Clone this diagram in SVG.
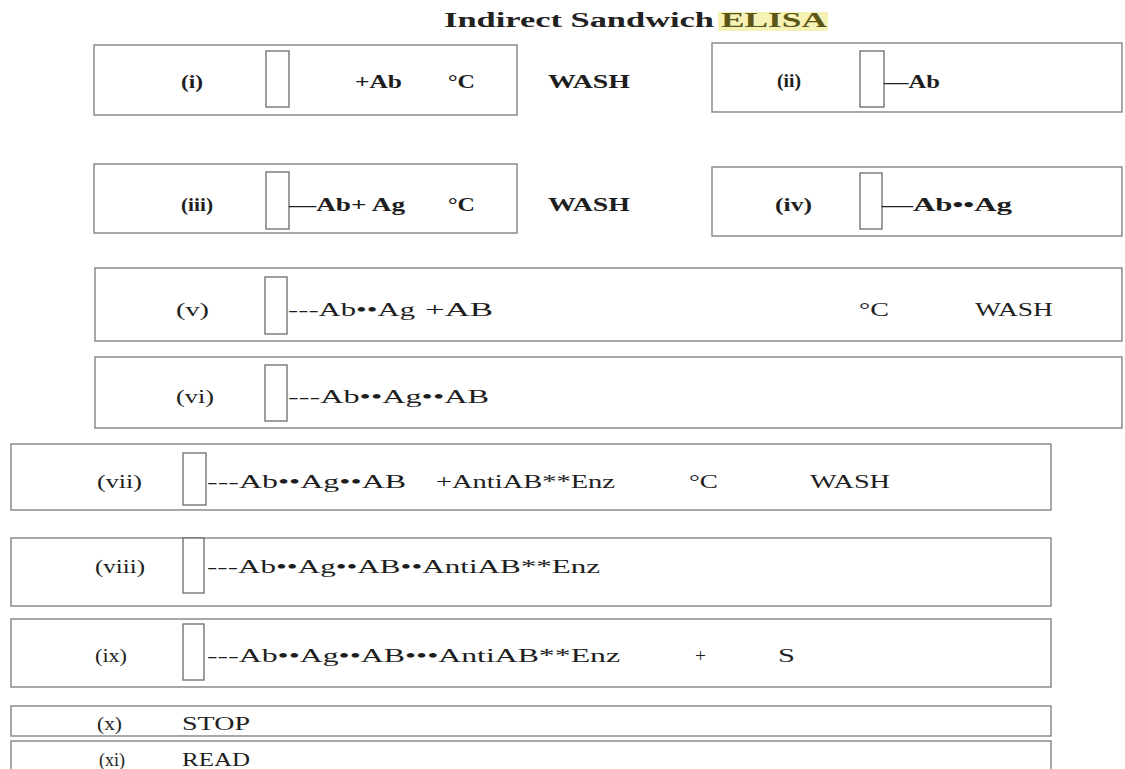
<svg xmlns="http://www.w3.org/2000/svg" width="1125" height="769" viewBox="0 0 1125 769">
<style>
.box{fill:#fff;stroke:#8a8a8a;stroke-width:1.5}
.well{fill:#fff;stroke:#6a6a6a;stroke-width:1.3}
text{font-family:"Liberation Serif","Times New Roman",serif;font-size:19px;fill:#1e1e1e}
.b{font-weight:bold;font-size:18px}
.title{font-size:20px;font-weight:bold;fill:#222}
</style>
<rect width="1125" height="769" fill="#fff"/>
<g id="title">
<rect x="718" y="12" width="110" height="19" fill="#f6f1b4"/>
<text class="title" x="444" y="27" textLength="270" lengthAdjust="spacingAndGlyphs">Indirect Sandwich</text>
<text class="title" x="721" y="27" textLength="106" lengthAdjust="spacingAndGlyphs" style="fill:#5c5616">ELISA</text>
</g>
<g id="step-i">
<rect class="box" x="94" y="45" width="423" height="70"/>
<rect class="well" x="266" y="51" width="23" height="56"/>
<text class="b" x="181" y="88" textLength="22" lengthAdjust="spacingAndGlyphs">(i)</text>
<text class="b" x="355" y="88" textLength="47" lengthAdjust="spacingAndGlyphs">+Ab</text>
<text class="b" x="448" y="88" textLength="27" lengthAdjust="spacingAndGlyphs">°C</text>
<text class="b" x="548" y="88" textLength="82" lengthAdjust="spacingAndGlyphs">WASH</text>
</g>
<g id="step-ii">
<rect class="box" x="712" y="43" width="410" height="69"/>
<rect class="well" x="860" y="51" width="24" height="56"/>
<text class="b" x="777" y="87" textLength="24" lengthAdjust="spacingAndGlyphs">(ii)</text>
<text class="b" x="884" y="88" textLength="56" lengthAdjust="spacingAndGlyphs">—Ab</text>
</g>
<g id="step-iii">
<rect class="box" x="94" y="164" width="423" height="69"/>
<rect class="well" x="266" y="172" width="23" height="57"/>
<text class="b" x="181" y="211" textLength="32" lengthAdjust="spacingAndGlyphs">(iii)</text>
<text class="b" x="289" y="211" textLength="116" lengthAdjust="spacingAndGlyphs">—Ab+ Ag</text>
<text class="b" x="448" y="211" textLength="27" lengthAdjust="spacingAndGlyphs">°C</text>
<text class="b" x="548" y="211" textLength="82" lengthAdjust="spacingAndGlyphs">WASH</text>
</g>
<g id="step-iv">
<rect class="box" x="712" y="167" width="410" height="69"/>
<rect class="well" x="860" y="173" width="22" height="56"/>
<text class="b" x="775" y="211" textLength="37" lengthAdjust="spacingAndGlyphs">(iv)</text>
<text class="b" x="882" y="211" textLength="130" lengthAdjust="spacingAndGlyphs">—Ab••Ag</text>
</g>
<g id="step-v">
<rect class="box" x="95" y="268" width="1027" height="73"/>
<rect class="well" x="265" y="277" width="22" height="57"/>
<text x="176" y="316" textLength="33" lengthAdjust="spacingAndGlyphs">(v)</text>
<text x="288" y="316" textLength="127" lengthAdjust="spacingAndGlyphs">---Ab••Ag</text>
<text x="425" y="316" textLength="68" lengthAdjust="spacingAndGlyphs">+AB</text>
<text x="859" y="316" textLength="30" lengthAdjust="spacingAndGlyphs">°C</text>
<text x="975" y="316" textLength="78" lengthAdjust="spacingAndGlyphs">WASH</text>
</g>
<g id="step-vi">
<rect class="box" x="95" y="357" width="1027" height="71"/>
<rect class="well" x="265" y="365" width="22" height="56"/>
<text x="176" y="403" textLength="38" lengthAdjust="spacingAndGlyphs">(vi)</text>
<text x="288" y="403" textLength="201" lengthAdjust="spacingAndGlyphs">---Ab••Ag••AB</text>
</g>
<g id="step-vii">
<rect class="box" x="11" y="444" width="1040" height="66"/>
<rect class="well" x="183" y="453" width="23" height="52"/>
<text x="97" y="488" textLength="45" lengthAdjust="spacingAndGlyphs">(vii)</text>
<text x="207" y="488" textLength="199" lengthAdjust="spacingAndGlyphs">---Ab••Ag••AB</text>
<text x="436" y="488" textLength="179" lengthAdjust="spacingAndGlyphs">+AntiAB**Enz</text>
<text x="689" y="488" textLength="29" lengthAdjust="spacingAndGlyphs">°C</text>
<text x="810" y="488" textLength="80" lengthAdjust="spacingAndGlyphs">WASH</text>
</g>
<g id="step-viii">
<rect class="box" x="11" y="538" width="1040" height="68"/>
<rect class="well" x="183" y="538" width="21" height="55"/>
<text x="95" y="573" textLength="50" lengthAdjust="spacingAndGlyphs">(viii)</text>
<text x="207" y="573" textLength="393" lengthAdjust="spacingAndGlyphs">---Ab••Ag••AB••AntiAB**Enz</text>
</g>
<g id="step-ix">
<rect class="box" x="11" y="619" width="1040" height="68"/>
<rect class="well" x="183" y="624" width="21" height="56"/>
<text x="95" y="662" textLength="32" lengthAdjust="spacingAndGlyphs">(ix)</text>
<text x="207" y="662" textLength="413" lengthAdjust="spacingAndGlyphs">---Ab••Ag••AB•••AntiAB**Enz</text>
<text x="695" y="662" textLength="11" lengthAdjust="spacingAndGlyphs">+</text>
<text x="778" y="662" textLength="17" lengthAdjust="spacingAndGlyphs">S</text>
</g>
<g id="step-x">
<rect class="box" x="11" y="706" width="1040" height="30"/>
<text x="97" y="730" textLength="25" lengthAdjust="spacingAndGlyphs">(x)</text>
<text x="182" y="730" textLength="68" lengthAdjust="spacingAndGlyphs">STOP</text>
</g>
<g id="step-xi">
<rect class="box" x="11" y="741" width="1040" height="40"/>
<text x="99" y="766" textLength="26" lengthAdjust="spacingAndGlyphs">(xi)</text>
<text x="182" y="766" textLength="68" lengthAdjust="spacingAndGlyphs">READ</text>
</g>
</svg>
